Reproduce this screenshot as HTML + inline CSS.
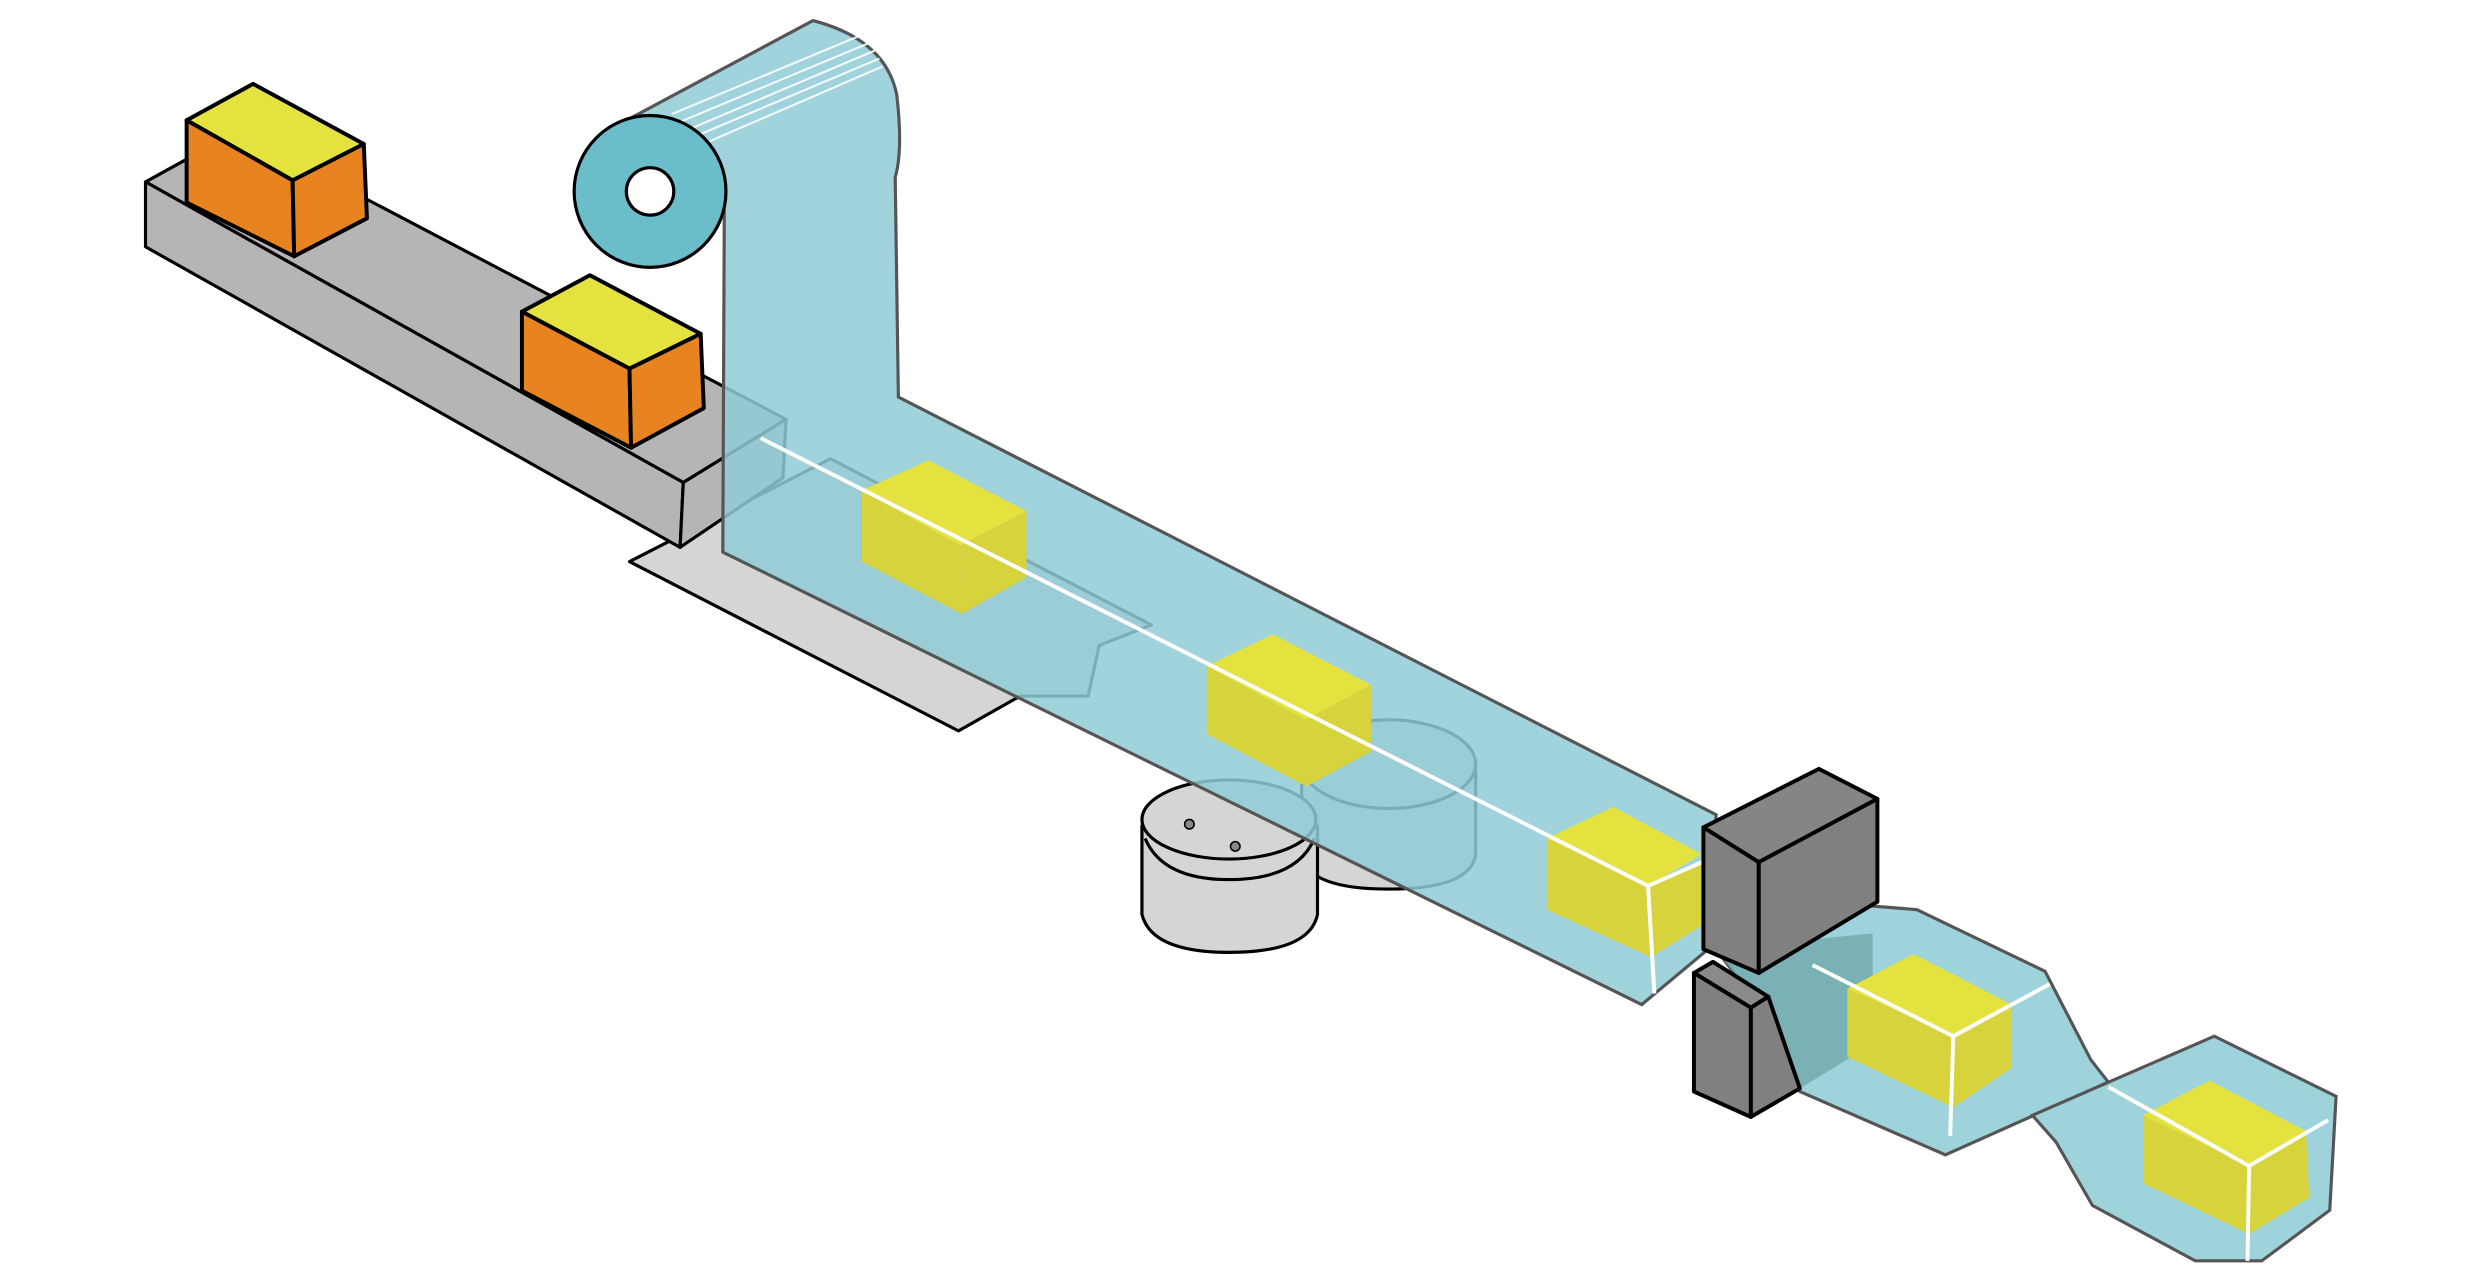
<!DOCTYPE html>
<html><head><meta charset="utf-8"><style>html,body{margin:0;padding:0;background:#fff;overflow:hidden}svg{display:block}</style></head>
<body>
<svg width="2480" height="1283" viewBox="0 0 1568 811" preserveAspectRatio="none" xmlns="http://www.w3.org/2000/svg">
<g stroke="#000" stroke-width="2" stroke-linejoin="round">
<!-- floor plate -->
<polygon points="398,355 525,290 728,395 695,408 688,440 645,440 606,462" fill="#d4d5d5"/>
<!-- conveyor -->
<polygon points="92,115 150,83 497,265 432,305" fill="#b5b5b5"/>
<polygon points="92,115 432,305 430,346 92,156" fill="#b5b5b5"/>
<polygon points="432,305 497,265 495,302 430,346" fill="#b5b5b5"/>
<!-- orange boxes -->
<polygon points="118,76 160,53 230,91 185,114" fill="#e4e23f" stroke-width="2.5"/>
<polygon points="118,76 185,114 186,162 118,128" fill="#e78420" stroke-width="2.5"/>
<polygon points="185,114 230,91 232,138 186,162" fill="#e78420" stroke-width="2.5"/>
<polygon points="330,197 373,174 443,211 398,233" fill="#e4e23f" stroke-width="2.5"/>
<polygon points="330,197 398,233 399,283 330,247" fill="#e78420" stroke-width="2.5"/>
<polygon points="398,233 443,211 445,258 399,283" fill="#e78420" stroke-width="2.5"/>
<!-- cylinder behind -->
<path d="M823,483 L823,540 Q826,562 878,562 Q930,562 933,540 L933,483 Z" fill="#d4d5d5"/>
<ellipse cx="878" cy="483" rx="55" ry="28" fill="#d4d5d5"/>
<!-- cylinder front -->
<path d="M722,522 L722,578 Q728,602 777,602 Q828,602 833,578 L833,522 Z" fill="#d4d5d5"/>
<ellipse cx="777" cy="518" rx="55" ry="25" fill="#d4d5d5"/>
<path d="M724,530 Q735,556 777,556 Q820,556 831,530" fill="none"/>
<circle cx="752" cy="521" r="3" fill="#888" stroke-width="1"/>
<circle cx="781" cy="535" r="3" fill="#888" stroke-width="1"/>
</g>
<!-- film band -->
<path d="M400,74 L514,13 Q560,25 567,60 Q571,95 566,112 L568,251 L1085,515 L1080,600 L1038,635 L457,349 L458,121 Z" fill="#8fcbd6" fill-opacity="0.85" stroke="#555" stroke-width="2"/>
<g stroke="#fff" stroke-width="1.3" opacity="0.9">
<line x1="425" y1="72" x2="545" y2="22"/><line x1="430" y1="77" x2="550" y2="27"/><line x1="435" y1="82" x2="553" y2="32"/><line x1="440" y1="86" x2="556" y2="37"/><line x1="447" y1="90" x2="558" y2="42"/>
</g>
<!-- roll -->
<circle cx="411" cy="121" r="48" fill="#6bbdc9" stroke="#000" stroke-width="2"/>
<circle cx="411" cy="121" r="15" fill="#fff" stroke="#000" stroke-width="2"/>
<!-- yellow boxes on film -->
<g>
<polygon points="545,310 587,291 649,323 607,345" fill="#e4e23f"/>
<polygon points="545,310 607,345 608,388 545,355" fill="#d6d33c"/>
<polygon points="607,345 649,323 649,365 608,388" fill="#d6d33c"/>
<polygon points="763,421 805,401 867,433 825,455" fill="#e4e23f"/>
<polygon points="763,421 825,455 826,497 763,464" fill="#d6d33c"/>
<polygon points="825,455 867,433 867,475 826,497" fill="#d6d33c"/>
<polygon points="978,530 1020,510 1076,540 1042,560" fill="#e4e23f"/>
<polygon points="978,530 1042,560 1044,605 978,575" fill="#d6d33c"/>
<polygon points="1042,560 1076,545 1076,585 1044,605" fill="#d6d33c"/>
</g>
<g stroke="#fff" stroke-width="2.5" fill="none">
<line x1="481" y1="277" x2="1042" y2="560"/><line x1="1042" y1="560" x2="1076" y2="545"/><line x1="1042" y1="560" x2="1046" y2="628"/>
</g>
<!-- right film pieces -->
<polygon points="1085,600 1150,570 1212,575 1293,614 1322,670 1333,684 1230,730 1138,690 1115,640" fill="#9fd3dc" stroke="#555" stroke-width="2"/>
<polygon points="1085,600 1184,590 1184,660 1138,688 1115,640" fill="#6fa9ad" opacity="0.8"/>
<polygon points="1285,705 1400,655 1477,693 1473,765 1430,797 1388,797 1323,762 1300,722" fill="#9fd3dc" stroke="#555" stroke-width="2"/>
<polygon points="1168,625 1210,603 1272,635 1235,655" fill="#e4e23f"/>
<polygon points="1168,625 1235,655 1235,700 1168,668" fill="#d6d33c"/>
<polygon points="1235,655 1272,635 1272,675 1235,700" fill="#d6d33c"/>
<polygon points="1355,705 1397,683 1458,715 1422,737" fill="#e4e23f"/>
<polygon points="1355,705 1422,737 1422,780 1355,748" fill="#d6d33c"/>
<polygon points="1422,737 1458,715 1460,757 1422,780" fill="#d6d33c"/>
<g stroke="#fff" stroke-width="2.5" fill="none">
<line x1="1146" y1="610" x2="1235" y2="655"/><line x1="1235" y1="655" x2="1296" y2="622"/><line x1="1235" y1="655" x2="1233" y2="718"/>
<line x1="1333" y1="687" x2="1422" y2="737"/><line x1="1422" y1="737" x2="1472" y2="708"/><line x1="1422" y1="737" x2="1421" y2="797"/>
</g>
<!-- dark boxes -->
<g stroke="#000" stroke-width="2.5" stroke-linejoin="round">
<polygon points="1071,615 1083,608 1118,630 1107,637" fill="#8a8a8a"/>
<polygon points="1071,615 1107,637 1107,706 1071,690" fill="#808080"/>
<polygon points="1107,637 1118,630 1138,688 1107,706" fill="#808080"/>
<polygon points="1077,523 1150,486 1187,505 1112,545" fill="#858585"/>
<polygon points="1077,523 1112,545 1112,615 1077,600" fill="#808080"/>
<polygon points="1112,545 1187,505 1187,570 1112,615" fill="#808080"/>
</g>
</svg>
</body></html>
